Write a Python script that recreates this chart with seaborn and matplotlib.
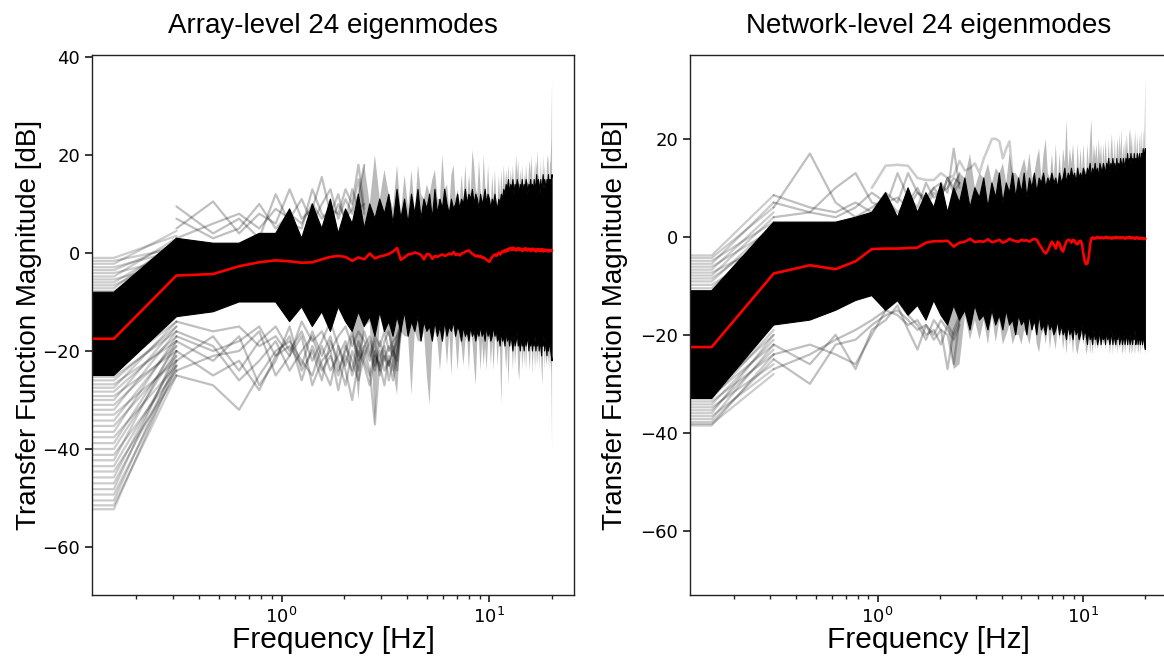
import numpy as np
import pandas as pd
import matplotlib
matplotlib.use("Agg")
import matplotlib.pyplot as plt
import seaborn as sns

# ---------------- data ----------------
BIN_HZ = 0.15625                      # FFT bin spacing
freq_hz = np.arange(129) * BIN_HZ     # bins 0 ... 20 Hz

titles = ["Array-level 24 eigenmodes", "Network-level 24 eigenmodes"]
y_ticks = [[-60, -40, -20, 0, 20, 40], [-60, -40, -20, 0, 20]]
y_limits = [(-69.8, 40.4), (-73.1, 37.1)]

# mean transfer function (red)
mean_array_db = [
    -17.5, -17.5, -4.6, -4.3, -2.7, -1.9, -1.5, -1.7, -2.0, -1.9,
    -1.3, -0.8, -0.6, -0.8, -1.6, -0.9, -1.3, -0.1, -1.1, -0.7,
    -0.5, -0.2, 0.3, 1.0, -1.4, -0.9, -0.3, -0.2, 0.1, -0.1,
    -0.4, -1.3, -0.2, -0.3, -1.2, -0.6, -0.8, -0.5, -0.3, -0.6,
    -0.4, -0.1, -0.3, 0.2, -0.4, -0.2, -0.5, -0.1, 0.0, 0.3,
    0.4, 0.5, 0.1, -0.2, -0.4, -0.7, -0.5, -0.8, -0.6, -1.0,
    -0.9, -1.2, -1.4, -1.6, -1.8, -1.2, -0.8, -0.5, -0.3, -0.6,
    -0.2, 0.1, -0.3, 0.0, 0.4, 0.2, 0.6, 0.3, 0.8, 0.5,
    1.0, 0.9, 0.6, 1.1, 0.7, 0.9, 0.5, 0.8, 1.0, 0.6,
    0.9, 0.7, 0.4, 0.8, 0.6, 1.0, 0.7, 0.5, 0.9, 0.6,
    0.8, 0.4, 0.7, 0.9, 0.5, 0.8, 0.6, 0.3, 0.7, 0.5,
    0.8, 0.6, 0.4, 0.7, 0.5, 0.8, 0.3, 0.6, 0.5, 0.7,
    0.4, 0.6, 0.5, 0.3, 0.6, 0.4, 0.5, 0.6, 0.5]
mean_network_db = [
    -22.5, -22.5, -7.5, -5.8, -6.6, -5.0, -2.5, -2.4, -2.4, -2.3,
    -2.2, -1.2, -0.9, -0.9, -0.8, -2.0, -1.2, -1.0, -0.4, -1.1,
    -0.9, -1.0, -0.5, -1.1, -0.9, -0.6, -1.2, -0.9, -0.4, -0.7,
    -0.9, -1.0, -0.6, -0.8, -0.7, -1.0, -0.6, -0.4, -0.6, -1.5,
    -2.2, -3.0, -3.4, -2.8, -1.8, -1.0, -1.6, -2.4, -1.0, -1.4,
    -2.6, -3.0, -1.8, -0.9, -0.6, -0.7, -1.2, -0.6, -0.8, -1.4,
    -1.5, -0.9, -0.8, -1.5, -3.5, -5.0, -5.6, -5.4, -4.0, -1.5,
    -0.3, -0.1, -0.4, -0.2, -0.3, 0.0, -0.2, -0.3, -0.1, -0.2,
    -0.3, -0.1, -0.2, 0.0, -0.2, -0.3, -0.1, -0.2, -0.4, -0.1,
    -0.2, -0.3, 0.0, -0.2, -0.1, -0.3, -0.2, -0.1, -0.3, -0.2,
    -0.1, -0.2, -0.4, -0.2, -0.1, -0.3, -0.2, 0.0, -0.2, -0.3,
    -0.1, -0.2, -0.3, -0.2, -0.4, -0.2, -0.1, -0.3, -0.2, -0.3,
    -0.2, -0.4, -0.3, -0.2, -0.3, -0.4, -0.5, -0.3, -0.4]

# dense (solid) band of the individual curves: upper / lower edge
core_top_array_db = [
    -8, -8, 3, 2, 2, 4, 4, 9, 3, 10, 5, 11, 4, 9, 6, 12, 5, 10, 7, 11,
    8, 12, 6, 13, 7, 11, 6, 12, 8, 13, 7, 11, 9, 12, 7, 13, 8, 11, 9, 13,
    10, 8, 11, 9, 10, 12, 9, 11, 10, 13, 10, 12, 11, 13, 10, 12, 11, 9, 12, 10,
    11, 13, 10, 12, 11, 9, 11, 10, 12, 10, 9, 11, 10, 12, 11, 13, 12, 14, 13, 15,
    12, 14, 13, 15, 12, 14, 13, 15, 14, 12, 14, 13, 15, 12, 14, 13, 15, 14, 12, 14,
    13, 15, 13, 14, 12, 15, 13, 14, 16, 13, 15, 14, 12, 15, 13, 14, 16, 13, 15, 14,
    13, 15, 14, 16, 13, 15, 14, 15, 16]
core_bottom_array_db = [
    -25, -25, -13, -12, -10, -10, -10, -14, -11, -15, -12, -16, -11, -14, -16, -12, -15, -13, -17, -12,
    -16, -14, -17, -13, -16, -12, -17, -14, -16, -13, -18, -14, -16, -15, -18, -14, -17, -15, -18, -14,
    -17, -15, -16, -14, -17, -15, -16, -18, -15, -17, -16, -18, -15, -17, -16, -18, -16, -17, -15, -17,
    -16, -18, -15, -17, -16, -18, -17, -15, -17, -16, -18, -17, -19, -16, -18, -17, -19, -16, -18, -17,
    -19, -17, -18, -20, -17, -19, -18, -16, -19, -18, -20, -17, -19, -18, -20, -17, -19, -18, -17, -20,
    -18, -19, -17, -20, -18, -19, -17, -20, -18, -19, -17, -20, -18, -19, -21, -18, -19, -17, -20, -18,
    -19, -21, -18, -20, -19, -18, -20, -21, -22]
# faint outliers (spikes) above / below the dense band (from bin 15 on)
spike_top_array_db = [
    -8, -8, 3, 2, 2, 4, 4, 9, 3, 10, 5, 11, 4, 9, 6, 12, 18, 10, 20, 11,
    17, 12, 9, 18, 8, 16, 9, 17, 8, 18, 12, 11, 14, 12, 15, 17, 11, 11, 20, 13,
    14, 9, 16, 18, 11, 13, 10, 16, 11, 18, 11, 16, 12, 21, 18, 13, 12, 19, 13, 11,
    20, 14, 11, 18, 12, 10, 16, 11, 17, 11, 10, 16, 11, 17, 12, 18, 13, 17, 14, 18,
    13, 17, 14, 18, 13, 15, 20, 16, 19, 13, 17, 14, 18, 13, 16, 14, 18, 15, 13, 17,
    19, 16, 20, 15, 13, 18, 14, 19, 17, 21, 16, 15, 13, 19, 14, 15, 20, 14, 18, 15,
    14, 18, 20, 19, 14, 18, 19, 23, 36]
spike_bottom_array_db = [
    -25, -25, -13, -12, -10, -10, -10, -14, -11, -15, -12, -16, -11, -14, -16, -30, -15, -14, -35, -13,
    -16, -17, -24, -29, -16, -17, -17, -29, -16, -18, -18, -16, -25, -31, -18, -16, -18, -24, -18, -16,
    -23, -16, -25, -15, -18, -24, -17, -19, -23, -18, -17, -24, -16, -18, -23, -27, -17, -18, -24, -18,
    -23, -19, -24, -18, -17, -23, -18, -24, -18, -17, -23, -18, -20, -31, -19, -18, -20, -24, -19, -27,
    -20, -18, -19, -24, -18, -23, -19, -17, -24, -26, -21, -18, -24, -19, -23, -18, -24, -19, -18, -21,
    -24, -20, -18, -25, -19, -23, -18, -24, -19, -23, -18, -24, -19, -20, -24, -27, -20, -18, -24, -19,
    -23, -22, -19, -23, -20, -24, -21, -25, -40]

core_top_network_db = [
    -11, -11, 3, 3, 3, 4, 5, 9, 4, 10, 5, 9, 6, 11, 5, 10, 7, 12, 6, 10,
    8, 12, 6, 11, 8, 13, 7, 11, 9, 13, 8, 12, 9, 13, 8, 12, 10, 13, 9, 12,
    11, 13, 10, 12, 11, 13, 11, 12, 10, 13, 11, 12, 14, 11, 13, 12, 14, 12, 13, 11,
    14, 12, 13, 12, 14, 13, 12, 14, 13, 15, 12, 14, 13, 15, 13, 14, 12, 15, 14, 13,
    15, 14, 13, 15, 14, 16, 13, 15, 14, 16, 14, 15, 13, 16, 14, 15, 14, 16, 15, 14,
    16, 15, 14, 16, 15, 17, 14, 16, 15, 17, 15, 16, 14, 17, 15, 16, 15, 17, 16, 15,
    17, 16, 15, 17, 16, 18, 16, 17, 18]
core_bottom_network_db = [
    -33, -33, -18, -17, -15, -13, -12, -15, -13, -16, -14, -17, -13, -16, -18, -14, -17, -15, -19, -14,
    -17, -16, -19, -15, -18, -16, -19, -15, -18, -17, -20, -16, -18, -17, -20, -16, -19, -17, -20, -16,
    -19, -18, -20, -17, -19, -18, -20, -19, -17, -20, -18, -20, -19, -21, -18, -20, -19, -21, -18, -20,
    -19, -21, -20, -18, -21, -19, -20, -22, -19, -21, -20, -22, -19, -21, -20, -22, -21, -19, -22, -20,
    -21, -20, -22, -19, -21, -20, -22, -21, -19, -22, -20, -21, -22, -20, -21, -19, -22, -21, -20, -22,
    -21, -20, -22, -21, -19, -22, -20, -21, -22, -20, -21, -22, -20, -21, -19, -22, -21, -20, -22, -21,
    -20, -22, -21, -20, -22, -21, -20, -22, -23]
spike_top_network_db = [
    -11, -11, 3, 3, 3, 4, 5, 9, 4, 10, 5, 9, 6, 11, 5, 11, 13, 12, 17, 10,
    13, 12, 15, 11, 14, 13, 15, 11, 17, 13, 13, 12, 14, 16, 13, 17, 12, 13, 16, 18,
    12, 17, 20, 13, 12, 17, 12, 19, 11, 17, 12, 18, 15, 24, 14, 18, 15, 19, 14, 12,
    19, 13, 18, 13, 19, 14, 13, 19, 14, 20, 24, 15, 19, 16, 19, 15, 20, 16, 19, 14,
    19, 15, 20, 16, 15, 20, 14, 18, 21, 17, 15, 20, 14, 18, 20, 16, 21, 17, 22, 15,
    19, 16, 20, 17, 21, 18, 15, 21, 22, 18, 21, 17, 15, 21, 16, 22, 16, 21, 17, 16,
    21, 17, 22, 18, 17, 22, 17, 23, 33]
spike_bottom_network_db = [
    -33, -33, -18, -17, -15, -13, -12, -15, -13, -16, -14, -17, -13, -16, -18, -27, -26, -16, -21, -17,
    -21, -17, -22, -16, -21.5, -17, -22, -20, -18, -22, -20, -20, -22, -19, -20, -22, -19, -17, -22, -23.6,
    -20, -19, -22, -18, -23, -19, -21, -23, -18, -21, -19, -23, -20, -24, -19, -22, -20, -24, -19, -23,
    -24, -22, -21, -19, -22, -20, -24, -23, -20, -24, -21, -24, -20, -23, -21, -23, -22, -20, -23, -21,
    -22, -21, -23, -20, -22, -21, -24, -22, -20, -24, -21, -22, -23, -21, -24, -20, -23, -22, -21, -24,
    -23, -21, -24, -22, -20, -23, -21, -24, -23, -21, -24, -23, -21, -24, -20, -24, -22, -21, -24, -23,
    -21, -24, -22, -21, -23, -22, -21, -23, -24]

# faint single curves at the lowest bins: value at bins 0-1, value at bin 2
stripe_start_array_db = [-1.0, -1.6, -2.2, -2.9, -3.5, -4.1, -4.8, -5.4, -6.0, -6.6, -7.2, -7.8,
                         -23.0, -23.8, -24.6, -25.3, -26.0, -26.8, -27.5, -28.3, -29.2, -30.0,
                         -31.0, -32.0, -33.0, -34.2, -35.3, -36.5, -37.6, -38.8, -40.0, -41.2,
                         -42.3, -43.5, -44.6, -45.8, -47.0, -48.2, -49.3, -50.5, -51.5, -52.3]
stripe_next_array_db = [3.5, 1.0, 4.5, 0.5, 2.0, -1.0, 3.0, -2.0, 1.5, -0.5, 2.5, 0.0,
                        -12, -14, -13, -16, -15, -18, -14, -17, -20, -15,
                        -19, -16, -22, -18, -21, -17, -23, -19, -20, -24,
                        -18, -22, -25, -21, -23, -20, -24, -22, -25, -23]
stripe_start_network_db = [-3.8, -4.3, -4.9, -5.5, -6.1, -6.7, -7.3, -7.9, -8.5, -9.1, -9.8, -10.5,
                           -31.0, -31.7, -32.4, -33.0, -33.6, -34.2, -34.8, -35.4, -36.0,
                           -36.6, -37.2, -37.8, -38.2, -38.5]
stripe_next_network_db = [8.5, 6.0, 3.0, 7.0, 1.5, 5.0, -1.0, 4.0, 0.5, 2.5, -2.0, 1.0,
                          -18, -20, -22, -19, -24, -21, -26, -23, -20, -27, -22, -25, -28, -24]

# faint curves above the band at low frequency (bins 2 ... 16)
upper_web_array_db = [
    [9.5, 4, 7, 3, 12, 6, 5, 13, 8, 6, 10, 7, 9, 15, 8],
    [5, 10.5, 4, 8, 6, 13, 7, 9, 15.5, 8, 12, 6, 13, 9, 10],
    [3, 6, 8, 5, 9, 7, 11, 6, 10, 13, 7, 11, 8, 12, 18],
    [7, 3, 5, 10, 5, 8, 6, 10, 7, 9, 8, 13, 10, 18, 9]]
upper_web_network_db = [
    [8.5, 6, 5, 7, 5, 9, 7, 13, 9, 8, 10, 11, 9, 18, 10],
    [6, 17, 7, 4, 6, 8, 5, 7, 10, 6, 9, 8, 12, 10, 13],
    [4, 5, 10, 13, 7, 6, 13, 8, 6, 11, 8, 9, 10, 12, 11],
    [7, 5, 4, 6, 9, 7, 8, 6, 9, 7, 10, 8, 12, 9, 11]]
# faint curves below the band at low frequency (bins 2 ... 24 / 2 ... 16)
lower_web_array_db = [
    [-22, -17, -24, -18, -15, -20, -16, -22, -18, -14, -19, -23, -17, -21, -16, -20, -24, -18, -22, -19, -21, -17, -14],
    [-25, -27, -32, -25, -20, -18, -22, -25, -19, -24, -21, -18, -25, -20, -23, -27, -21, -24, -20, -26, -22, -19, -15],
    [-18, -22, -17, -27, -22, -15, -24, -20, -26, -18, -22, -27, -20, -24, -19, -22, -18, -25, -21, -23, -19, -24, -16],
    [-24, -21, -20, -16, -25, -21, -17, -27, -22, -20, -28, -21, -24, -18, -22, -25, -20, -23, -27, -21, -24, -20, -15],
    [-16, -19, -26, -22, -18, -24, -20, -17, -23, -27, -19, -24, -30, -22, -20, -24, -35, -21, -19, -23, -20, -22, -14],
    [-20, -25, -22, -28, -21, -17, -26, -19, -24, -21, -25, -19, -22, -26, -21, -18, -23, -20, -24, -22, -26, -21, -16],
    [-14, -16, -15, -19, -17, -21, -14, -18, -16, -20, -17, -15, -19, -16, -18, -21, -17, -19, -16, -20, -18, -17, -15],
    [-17, -20, -18, -15, -21, -19, -23, -16, -21, -17, -24, -20, -16, -22, -19, -17, -21, -23, -18, -16, -20, -18, -16]]
lower_web_network_db = [
    [-27, -24, -21, -19, -17, -15, -16, -18, -17, -20, -19, -22, -18, -20, -17],
    [-25, -30, -22, -21, -18, -16, -15, -17, -19, -18, -21, -19, -27, -19, -16],
    [-22, -26, -20, -27, -19, -17, -14, -19, -23, -18, -20, -17, -19, -21, -18],
    [-24, -22, -24, -26, -20, -15, -13, -16, -18, -21, -17, -19, -20, -26, -17]]
# one wandering faint curve above the band (network level, bins 6 ... 30)
outlier_network_db = [10, 14.5, 14.7, 14.5, 12, 11.6, 11.6, 13, 12, 12.5, 15.5, 13.5,
                      14, 15, 13, 16, 18, 20, 20, 19.5, 16, 18, 19.5, 12, 7]

# ---------------- style ----------------
sns.set_theme(style="ticks")
plt.rcParams["font.family"] = ["DejaVu Sans"]
plt.rcParams.update({
    "text.color": "black", "axes.labelcolor": "black",
    "axes.edgecolor": "#222222", "axes.linewidth": 1.0,
    "xtick.color": "#222222", "ytick.color": "#222222",
    "xtick.labelcolor": "black", "ytick.labelcolor": "black",
    "xtick.labelsize": 13, "ytick.labelsize": 13,
    "xtick.major.size": 5, "ytick.major.size": 5, "xtick.minor.size": 3,
})
LABEL_FONT = "Liberation Sans"

fig = plt.figure(figsize=(11.64, 6.59), dpi=100)
ax_left = fig.add_axes([0.0790, 0.0971, 0.4141, 0.8194])
ax_right = fig.add_axes([0.5928, 0.0971, 0.4098, 0.8194])


def long_lines(first_bin, rows):
    recs = []
    for i, row in enumerate(rows):
        for j, v in enumerate(row):
            recs.append({"f": freq_hz[first_bin + j], "db": v, "line": i})
    return pd.DataFrame(recs)


def faint(ax, first_bin, rows, alpha=0.22, lw=1.6):
    sns.lineplot(data=long_lines(first_bin, rows), x="f", y="db", units="line",
                 estimator=None, color="black", alpha=alpha, lw=lw,
                 legend=False, ax=ax)


def draw(ax, mean_db, core_top, core_bot, spike_top, spike_bot,
         stripe_start, stripe_next, upper_web, lower_web, outlier=None):
    ax.fill_between(freq_hz, core_top, spike_top, color="black", alpha=0.27, lw=0)
    ax.fill_between(freq_hz, spike_bot, core_bot, color="black", alpha=0.27, lw=0)
    faint(ax, 0, [[s, s, n] for s, n in zip(stripe_start, stripe_next)], alpha=0.2)
    faint(ax, 2, upper_web, alpha=0.25)
    faint(ax, 2, lower_web, alpha=0.25)
    if outlier is not None:
        faint(ax, 6, [outlier], alpha=0.2, lw=1.8)
    ax.fill_between(freq_hz, core_bot, core_top, color="black", lw=0.8,
                    edgecolor="black")
    sns.lineplot(x=freq_hz, y=mean_db, color="red", lw=1.9, ax=ax,
                 estimator=None, sort=False)


draw(ax_left, mean_array_db, core_top_array_db, core_bottom_array_db,
     spike_top_array_db, spike_bottom_array_db,
     stripe_start_array_db, stripe_next_array_db,
     upper_web_array_db, lower_web_array_db)
draw(ax_right, mean_network_db, core_top_network_db, core_bottom_network_db,
     spike_top_network_db, spike_bottom_network_db,
     stripe_start_network_db, stripe_next_network_db,
     upper_web_network_db, lower_web_network_db, outlier_network_db)

for i, ax in enumerate([ax_left, ax_right]):
    ax.set_xscale("log")
    ax.set_xlim(freq_hz[1] / 10 ** 0.1053, freq_hz[-1] * 10 ** 0.1053)
    ax.set_ylim(*y_limits[i])
    ax.set_yticks(y_ticks[i])
    ax.set_title(titles[i], fontsize=20, family=LABEL_FONT, pad=16)
    ax.set_xlabel("Frequency [Hz]", fontsize=21.5, family=LABEL_FONT)
    ax.set_ylabel("Transfer Function Magnitude [dB]", fontsize=20, family=LABEL_FONT)
    for sp in ax.spines.values():
        sp.set_visible(True)
    ax.xaxis.set_label_coords(0.5, -0.058)

ax_left.yaxis.set_label_coords(-0.104, 0.5)
ax_right.yaxis.set_label_coords(-0.130, 0.5)

fig.savefig("out.png", dpi=100)
